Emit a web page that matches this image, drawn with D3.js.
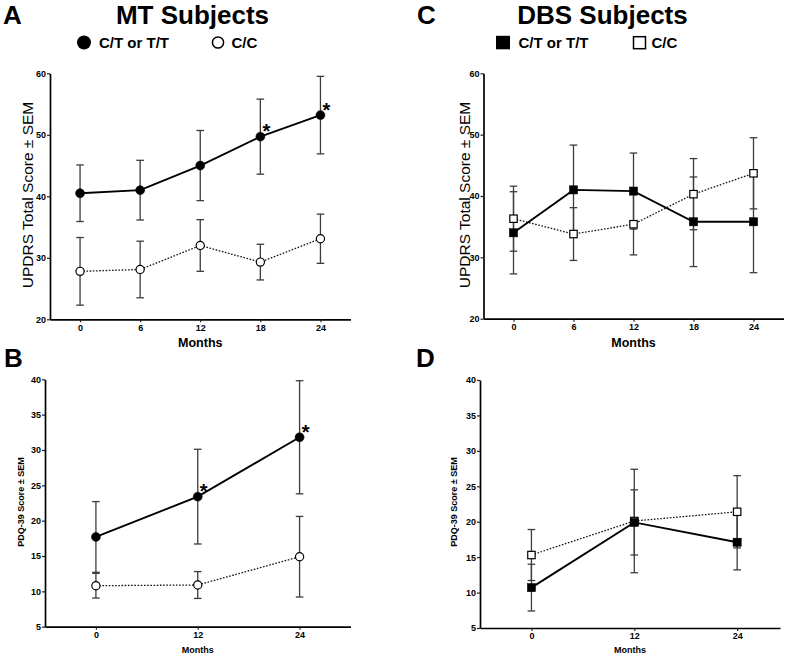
<!DOCTYPE html>
<html><head><meta charset="utf-8">
<script src="https://cdn.jsdelivr.net/npm/d3@7"></script>
<style>
html,body{margin:0;padding:0;background:#fff;}
svg{display:block;font-family:"Liberation Sans",Arial,Helvetica,sans-serif;}
</style></head>
<body>
<svg id="c" width="789" height="658"></svg>
<script>
// ---------- data ----------
const monthsUPDRS = [0, 6, 12, 18, 24];
const monthsPDQ = [0, 12, 24];
const updrsTicks = [20, 30, 40, 50, 60];
const pdqTicks = [5, 10, 15, 20, 25, 30, 35, 40];
const legendLabels = ["C/T or T/T", "C/C"];

// A: MT UPDRS
const mtUpdrsCT = [40.5, 41.0, 45.0, 49.7, 53.2];
const mtUpdrsCTsem = [4.6, 4.85, 5.7, 6.1, 6.3];
const mtUpdrsCC = [27.8, 28.1, 32.0, 29.3, 33.1];
const mtUpdrsCCsem = [5.5, 4.6, 4.2, 2.9, 4.0];
const mtUpdrsStars = [18, 24];

// B: MT PDQ-39
const mtPdqCT = [17.7, 23.4, 31.8];
const mtPdqCTsem = [5.0, 6.7, 8.0];
const mtPdqCC = [10.8, 10.9, 14.9];
const mtPdqCCsem = [1.75, 1.9, 5.7];
const mtPdqStars = [12, 24];

// C: DBS UPDRS
const dbsUpdrsCT = [34.0, 41.0, 40.8, 35.8, 35.8];
const dbsUpdrsCTsem = [6.7, 7.3, 6.2, 7.3, 8.3];
const dbsUpdrsCC = [36.3, 33.8, 35.4, 40.3, 43.7];
const dbsUpdrsCCsem = [5.3, 4.3, 5.0, 5.8, 5.8];

// D: DBS PDQ-39
const dbsPdqCT = [10.7, 19.9, 17.1];
const dbsPdqCTsem = [3.3, 4.6, 3.9];
const dbsPdqCC = [15.3, 20.1, 21.4];
const dbsPdqCCsem = [3.6, 7.3, 5.1];

// ---------- drawing ----------
const svg = d3.select("#c");
const ERR = "#3c3c3c";

function panel(o) {
  const x = d3.scaleLinear().domain(o.xDom).range(o.xRange);
  const y = d3.scaleLinear().domain(o.yDom).range(o.yRange);
  const g = svg.append("g");

  // axes
  const ax = g.append("g").attr("transform", `translate(0,${o.yRange[0]})`)
    .call(d3.axisBottom(x).tickValues(o.months).tickSize(3).tickSizeOuter(0).tickPadding(2));
  const ay = g.append("g").attr("transform", `translate(${o.xRange[0]},0)`)
    .call(d3.axisLeft(y).tickValues(o.yTicks).tickSize(3).tickSizeOuter(0).tickPadding(1));
  [ax, ay].forEach(a => {
    a.select(".domain").attr("stroke", "#000").attr("stroke-width", 1.7);
    a.selectAll(".tick line").attr("stroke", "#222").attr("stroke-width", 1.2);
    a.selectAll(".tick text").attr("fill", "#000").attr("font-size", o.tickFont)
      .attr("font-weight", "bold").attr("font-family", "Liberation Sans, Arial, sans-serif");
  });

  // axis labels
  g.append("text").attr("x", (o.xRange[0] + o.xRange[1]) / 2).attr("y", o.monthsY)
    .attr("text-anchor", "middle").attr("font-weight", "bold").attr("font-size", o.monthsFont).text("Months");
  g.append("text")
    .attr("transform", `translate(${o.yLabelX},${o.yLabelCy}) rotate(-90)`)
    .attr("text-anchor", "middle").attr("font-size", o.yLabelFont)
    .attr("font-weight", o.yLabelBold ? "bold" : "normal").text(o.yLabel);

  const series = [
    {vals: o.ct, sem: o.ctSem, filled: true},
    {vals: o.cc, sem: o.ccSem, filled: false}
  ];
  // error bars
  series.forEach(s => {
    s.vals.forEach((v, i) => {
      const cx = x(o.months[i]);
      const hi = y(v + s.sem[i]), lo = y(v - s.sem[i]);
      g.append("line").attr("x1", cx).attr("x2", cx).attr("y1", hi).attr("y2", lo)
        .attr("stroke", ERR).attr("stroke-width", 1.3);
      [hi, lo].forEach(yy => g.append("line").attr("x1", cx - 3.8).attr("x2", cx + 3.8)
        .attr("y1", yy).attr("y2", yy).attr("stroke", ERR).attr("stroke-width", 1.3));
    });
  });
  // lines
  const line = d3.line().x((d, i) => x(o.months[i])).y(d => y(d));
  g.append("path").datum(o.cc).attr("d", line).attr("fill", "none")
    .attr("stroke", "#111").attr("stroke-width", 1.3).attr("stroke-dasharray", "1.6,1.6");
  g.append("path").datum(o.ct).attr("d", line).attr("fill", "none")
    .attr("stroke", "#000").attr("stroke-width", 1.9);
  // markers
  series.slice().reverse().forEach(s => {
    s.vals.forEach((v, i) => {
      const cx = x(o.months[i]), cy = y(v);
      if (o.shape === "circle") {
        g.append("circle").attr("cx", cx).attr("cy", cy).attr("r", s.filled ? 4.5 : 4.1)
          .attr("fill", s.filled ? "#000" : "#fff").attr("stroke", "#000").attr("stroke-width", s.filled ? 0.5 : 1.2);
      } else {
        const h = s.filled ? 4.1 : 3.7;
        g.append("rect").attr("x", cx - h).attr("y", cy - h).attr("width", 2 * h).attr("height", 2 * h)
          .attr("fill", s.filled ? "#000" : "#fff").attr("stroke", "#000").attr("stroke-width", s.filled ? 0.5 : 1.2);
      }
    });
  });
  // significance stars
  (o.stars || []).forEach(m => {
    const i = o.months.indexOf(m);
    g.append("text").attr("x", x(m) + 6).attr("y", y(o.ct[i]) + 1.5)
      .attr("text-anchor", "middle").attr("font-size", 20).attr("font-weight", "bold").text("*");
  });
}

// titles, panel letters, legends
function header(letter, lx, title, tcx, shape, mx1, tx1, mx2, tx2) {
  svg.append("text").attr("x", lx).attr("y", 24).attr("font-size", 26).attr("font-weight", "bold").text(letter);
  svg.append("text").attr("x", tcx).attr("y", 24).attr("text-anchor", "middle")
    .attr("font-size", 26).attr("font-weight", "bold").text(title);
  if (shape === "circle") {
    svg.append("circle").attr("cx", mx1).attr("cy", 42.5).attr("r", 7).attr("fill", "#000");
    svg.append("circle").attr("cx", mx2).attr("cy", 42.5).attr("r", 5.6).attr("fill", "#fff")
      .attr("stroke", "#000").attr("stroke-width", 1.5);
  } else {
    svg.append("rect").attr("x", mx1 - 7).attr("y", 35.8).attr("width", 14).attr("height", 13.5).attr("fill", "#000");
    svg.append("rect").attr("x", mx2 - 6).attr("y", 36.7).attr("width", 12).attr("height", 12).attr("fill", "#fff")
      .attr("stroke", "#000").attr("stroke-width", 1.5);
  }
  svg.append("text").attr("x", tx1).attr("y", 47.5).attr("font-size", 15).attr("font-weight", "bold").text(legendLabels[0]);
  svg.append("text").attr("x", tx2).attr("y", 47.5).attr("font-size", 15).attr("font-weight", "bold").text(legendLabels[1]);
}
header("A", 3, "MT Subjects", 192.5, "circle", 84, 99, 218, 231.5);
header("C", 417, "DBS Subjects", 602.5, "square", 503, 518.5, 639.5, 651.5);
svg.append("text").attr("x", 4).attr("y", 367).attr("font-size", 26).attr("font-weight", "bold").text("B");
svg.append("text").attr("x", 416).attr("y", 367).attr("font-size", 26).attr("font-weight", "bold").text("D");

panel({xDom: [-3, 27], xRange: [50, 350.5], yDom: [20, 60], yRange: [319.3, 73.3],
  months: monthsUPDRS, yTicks: updrsTicks, tickFont: 9,
  ct: mtUpdrsCT, ctSem: mtUpdrsCTsem, cc: mtUpdrsCC, ccSem: mtUpdrsCCsem, shape: "circle",
  stars: mtUpdrsStars, monthsY: 347, monthsFont: 12.5,
  yLabel: "UPDRS Total Score \u00B1 SEM", yLabelX: 33, yLabelCy: 195, yLabelFont: 15.5, yLabelBold: false});

panel({xDom: [-3, 27], xRange: [483.5, 783.5], yDom: [20, 60], yRange: [318.7, 73.3],
  months: monthsUPDRS, yTicks: updrsTicks, tickFont: 9,
  ct: dbsUpdrsCT, ctSem: dbsUpdrsCTsem, cc: dbsUpdrsCC, ccSem: dbsUpdrsCCsem, shape: "square",
  monthsY: 346.7, monthsFont: 12.5,
  yLabel: "UPDRS Total Score \u00B1 SEM", yLabelX: 470, yLabelCy: 195, yLabelFont: 15.5, yLabelBold: false});

panel({xDom: [-6, 30], xRange: [45, 350.5], yDom: [5, 40], yRange: [626.7, 379.3],
  months: monthsPDQ, yTicks: pdqTicks, tickFont: 9,
  ct: mtPdqCT, ctSem: mtPdqCTsem, cc: mtPdqCC, ccSem: mtPdqCCsem, shape: "circle",
  stars: mtPdqStars, monthsY: 653, monthsFont: 9,
  yLabel: "PDQ-39 Score \u00B1 SEM", yLabelX: 24, yLabelCy: 502, yLabelFont: 9, yLabelBold: true});

panel({xDom: [-6, 29], xRange: [480, 780], yDom: [5, 40], yRange: [628, 380],
  months: monthsPDQ, yTicks: pdqTicks, tickFont: 9,
  ct: dbsPdqCT, ctSem: dbsPdqCTsem, cc: dbsPdqCC, ccSem: dbsPdqCCsem, shape: "square",
  monthsY: 653, monthsFont: 9,
  yLabel: "PDQ-39 Score \u00B1 SEM", yLabelX: 457, yLabelCy: 502, yLabelFont: 9, yLabelBold: true});
</script>
</body></html>
